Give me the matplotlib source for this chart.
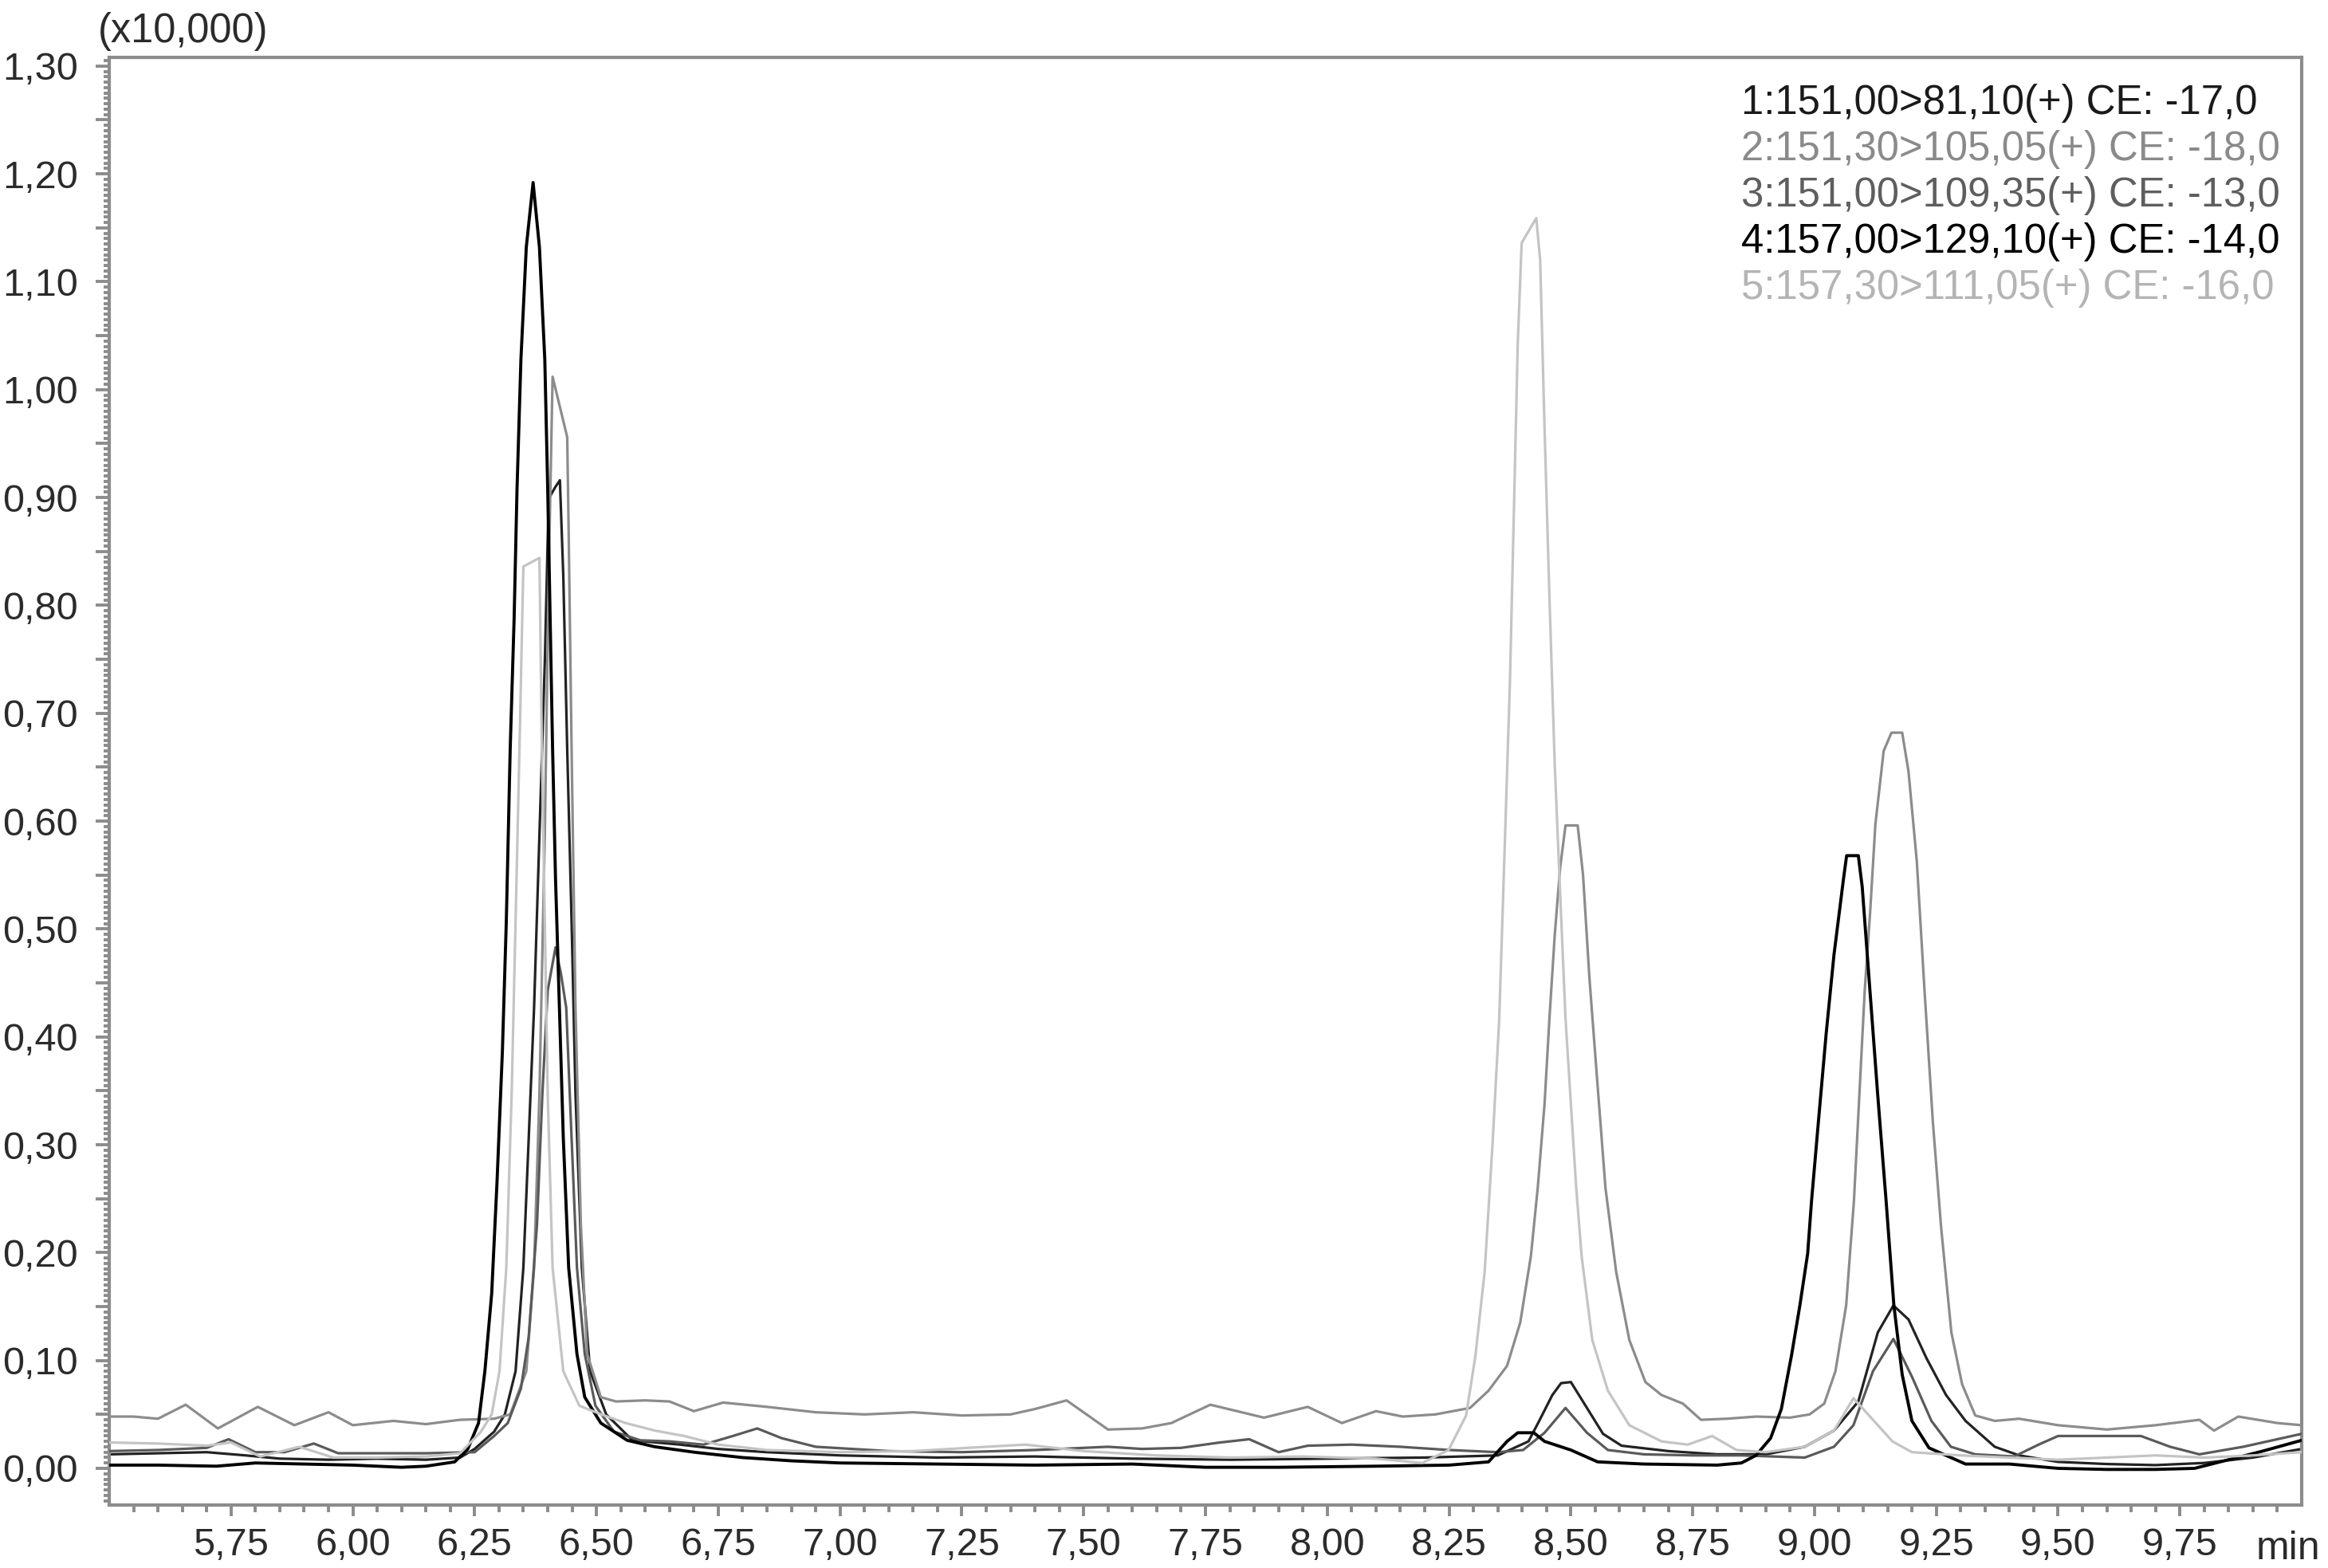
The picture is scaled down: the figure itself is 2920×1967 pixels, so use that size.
import numpy as np
import matplotlib
matplotlib.use("Agg")
import matplotlib.pyplot as plt
from matplotlib.ticker import FixedLocator, MultipleLocator, FuncFormatter

plt.rcParams['font.family'] = ['Liberation Sans', 'DejaVu Sans']

# --- data (intensity in units of x10,000) ---
labels = [
    "1:151,00>81,10(+) CE: -17,0",
    "2:151,30>105,05(+) CE: -18,0",
    "3:151,00>109,35(+) CE: -13,0",
    "4:157,00>129,10(+) CE: -14,0",
    "5:157,30>111,05(+) CE: -16,0",
]

t1 = [5.5, 5.6, 5.7, 5.78, 5.85, 5.95, 6.05, 6.15, 6.22, 6.25, 6.29, 6.312, 6.334, 6.35, 6.361,
      6.372, 6.383, 6.394, 6.402, 6.416, 6.425, 6.432, 6.44, 6.449, 6.457, 6.47, 6.487, 6.52,
      6.574, 6.672, 6.75, 6.85, 7.0, 7.2, 7.4, 7.6, 7.8, 8.0, 8.2, 8.35, 8.413, 8.435, 8.462,
      8.48, 8.50, 8.533, 8.566, 8.604, 8.7, 8.8, 8.9, 8.98, 9.04, 9.09, 9.10, 9.13, 9.162, 9.193,
      9.23, 9.27, 9.31, 9.37, 9.42, 9.5, 9.6, 9.7, 9.8, 9.9, 10.0]
v1 = [0.013, 0.014, 0.015, 0.012, 0.009, 0.008, 0.009, 0.008, 0.010, 0.018, 0.034, 0.050, 0.090,
      0.186, 0.306, 0.427, 0.587, 0.747, 0.899, 0.910, 0.916, 0.827, 0.667, 0.507, 0.347, 0.186,
      0.090, 0.050, 0.026, 0.022, 0.018, 0.015, 0.012, 0.010, 0.011, 0.009, 0.008, 0.009, 0.010,
      0.012, 0.025, 0.044, 0.068, 0.079, 0.080, 0.056, 0.032, 0.021, 0.016, 0.013, 0.013, 0.020,
      0.035, 0.062, 0.078, 0.126, 0.151, 0.138, 0.102, 0.068, 0.044, 0.020, 0.012, 0.006, 0.004,
      0.003, 0.005, 0.010, 0.018]

t2 = [5.5, 5.55, 5.6, 5.657, 5.723, 5.805, 5.88, 5.95, 6.0, 6.083, 6.15, 6.22, 6.29, 6.323,
      6.356, 6.372, 6.383, 6.394, 6.402, 6.41, 6.44, 6.443, 6.449, 6.457, 6.468, 6.481, 6.509,
      6.54, 6.6, 6.65, 6.70, 6.76, 6.85, 6.95, 7.05, 7.15, 7.25, 7.35, 7.40, 7.465, 7.55, 7.62,
      7.68, 7.76, 7.87, 7.96, 8.03, 8.10, 8.155, 8.222, 8.293, 8.331, 8.369, 8.396, 8.418, 8.432,
      8.446, 8.456, 8.467, 8.478, 8.489, 8.514, 8.525, 8.538, 8.555, 8.571, 8.593, 8.62, 8.653,
      8.686, 8.73, 8.767, 8.82, 8.88, 8.95, 8.99, 9.02, 9.043, 9.065, 9.081, 9.092, 9.103, 9.114,
      9.125, 9.142, 9.158, 9.18, 9.193, 9.21, 9.226, 9.243, 9.26, 9.281, 9.303, 9.33, 9.37, 9.42,
      9.5, 9.6, 9.7, 9.79, 9.82, 9.87, 9.95, 10.0]
v2 = [0.048, 0.048, 0.046, 0.059, 0.037, 0.057, 0.040, 0.052, 0.040, 0.044, 0.041, 0.045, 0.046,
      0.050, 0.090, 0.186, 0.347, 0.587, 0.827, 1.012, 0.956, 0.868, 0.667, 0.427, 0.226, 0.106,
      0.066, 0.062, 0.063, 0.062, 0.053, 0.061, 0.057, 0.052, 0.050, 0.052, 0.049, 0.050, 0.055,
      0.063, 0.036, 0.037, 0.042, 0.059, 0.047, 0.057, 0.042, 0.053, 0.048, 0.050, 0.056, 0.072,
      0.095, 0.135, 0.197, 0.260, 0.338, 0.417, 0.495, 0.557, 0.596, 0.596, 0.550, 0.455, 0.354,
      0.260, 0.182, 0.119, 0.080, 0.068, 0.060, 0.045, 0.046, 0.048, 0.047, 0.050, 0.060, 0.090,
      0.151, 0.248, 0.345, 0.442, 0.514, 0.597, 0.665, 0.682, 0.682, 0.646, 0.563, 0.442, 0.321,
      0.223, 0.126, 0.078, 0.049, 0.044, 0.046, 0.040, 0.036, 0.040, 0.045, 0.035, 0.048, 0.042,
      0.040]

t3 = [5.5, 5.6, 5.70, 5.745, 5.80, 5.86, 5.92, 5.97, 6.05, 6.15, 6.25, 6.29, 6.318, 6.345,
      6.361, 6.378, 6.389, 6.40, 6.416, 6.427, 6.438, 6.449, 6.46, 6.476, 6.498, 6.536, 6.59,
      6.65, 6.72, 6.78, 6.83, 6.88, 6.95, 7.1, 7.25, 7.4, 7.55, 7.62, 7.7, 7.78, 7.84, 7.9, 7.96,
      8.05, 8.15, 8.25, 8.35, 8.402, 8.446, 8.489, 8.533, 8.576, 8.65, 8.75, 8.85, 8.98, 9.04,
      9.08, 9.12, 9.162, 9.2, 9.24, 9.28, 9.33, 9.41, 9.46, 9.50, 9.6, 9.67, 9.73, 9.79, 9.88,
      10.0]
v3 = [0.016, 0.017, 0.019, 0.027, 0.015, 0.015, 0.023, 0.014, 0.014, 0.014, 0.015, 0.030, 0.042,
      0.074, 0.122, 0.226, 0.347, 0.443, 0.483, 0.459, 0.427, 0.306, 0.186, 0.106, 0.058, 0.034,
      0.026, 0.025, 0.022, 0.030, 0.037, 0.028, 0.020, 0.016, 0.015, 0.017, 0.020, 0.018, 0.019,
      0.024, 0.027, 0.015, 0.021, 0.022, 0.020, 0.017, 0.015, 0.017, 0.033, 0.056, 0.033, 0.017,
      0.013, 0.012, 0.012, 0.010, 0.020, 0.040, 0.090, 0.120, 0.085, 0.044, 0.020, 0.013, 0.011,
      0.022, 0.030, 0.030, 0.030, 0.020, 0.013, 0.020, 0.032]

t4 = [5.5, 5.6, 5.72, 5.80, 5.9, 6.0, 6.1, 6.15, 6.209, 6.236, 6.258, 6.271, 6.285, 6.296, 6.307,
      6.315, 6.323, 6.331, 6.337, 6.345, 6.356, 6.37, 6.383, 6.394, 6.40, 6.405, 6.41, 6.416,
      6.424, 6.432, 6.443, 6.46, 6.476, 6.509, 6.563, 6.62, 6.7, 6.8, 6.9, 7.0, 7.2, 7.4, 7.6,
      7.75, 7.9, 8.1, 8.25, 8.331, 8.369, 8.391, 8.424, 8.446, 8.5, 8.555, 8.65, 8.8, 8.85, 8.88,
      8.91, 8.932, 8.953, 8.97, 8.986, 8.994, 9.008, 9.024, 9.04, 9.06, 9.066, 9.09, 9.098, 9.114,
      9.13, 9.147, 9.163, 9.18, 9.2, 9.235, 9.31, 9.4, 9.5, 9.6, 9.7, 9.78, 9.85, 9.92, 10.0]
v4 = [0.003, 0.003, 0.002, 0.005, 0.004, 0.003, 0.001, 0.002, 0.006, 0.018, 0.042, 0.090, 0.162,
      0.266, 0.387, 0.507, 0.667, 0.787, 0.908, 1.028, 1.132, 1.192, 1.132, 1.028, 0.908, 0.787,
      0.667, 0.547, 0.427, 0.306, 0.186, 0.106, 0.066, 0.042, 0.026, 0.020, 0.015, 0.010, 0.007,
      0.005, 0.004, 0.003, 0.004, 0.001, 0.001, 0.002, 0.003, 0.006, 0.025, 0.033, 0.033, 0.025,
      0.017, 0.006, 0.004, 0.003, 0.005, 0.012, 0.028, 0.055, 0.105, 0.151, 0.199, 0.248, 0.321,
      0.403, 0.476, 0.548, 0.568, 0.568, 0.539, 0.442, 0.345, 0.248, 0.151, 0.087, 0.044, 0.019,
      0.004, 0.004, 0.000, -0.001, -0.001, 0.000, 0.008, 0.016, 0.026]

t5 = [5.5, 5.6, 5.7, 5.75, 5.81, 5.89, 5.96, 6.05, 6.15, 6.22, 6.263, 6.285, 6.301, 6.315, 6.326,
      6.334, 6.342, 6.35, 6.383, 6.388, 6.394, 6.40, 6.41, 6.432, 6.465, 6.51, 6.56, 6.62, 6.68,
      6.75, 6.85, 7.0, 7.15, 7.3, 7.38, 7.5, 7.65, 7.8, 7.95, 8.1, 8.195, 8.249, 8.285, 8.304,
      8.323, 8.339, 8.353, 8.364, 8.375, 8.383, 8.391, 8.399, 8.429, 8.437, 8.446, 8.456, 8.467,
      8.478, 8.489, 8.50, 8.511, 8.522, 8.544, 8.576, 8.62, 8.686, 8.74, 8.79, 8.84, 8.9, 8.98,
      9.04, 9.08, 9.12, 9.16, 9.2, 9.3, 9.4, 9.5, 9.6, 9.7, 9.8, 9.9, 10.0]
v5 = [0.024, 0.023, 0.021, 0.024, 0.011, 0.020, 0.010, 0.010, 0.011, 0.014, 0.034, 0.050, 0.090,
      0.186, 0.347, 0.507, 0.667, 0.836, 0.844, 0.667, 0.507, 0.347, 0.186, 0.090, 0.058, 0.050,
      0.042, 0.035, 0.030, 0.022, 0.017, 0.015, 0.016, 0.020, 0.022, 0.016, 0.012, 0.010, 0.011,
      0.009, 0.005, 0.017, 0.049, 0.104, 0.182, 0.299, 0.417, 0.573, 0.730, 0.886, 1.043, 1.136,
      1.159, 1.120, 0.964, 0.808, 0.651, 0.533, 0.417, 0.338, 0.260, 0.197, 0.119, 0.072, 0.040,
      0.025, 0.022, 0.030, 0.017, 0.015, 0.020, 0.035, 0.065, 0.045, 0.025, 0.015, 0.012, 0.010,
      0.008, 0.010, 0.012, 0.010, 0.012, 0.015]

x_labels = ["5,75", "6,00", "6,25", "6,50", "6,75", "7,00", "7,25", "7,50", "7,75",
            "8,00", "8,25", "8,50", "8,75", "9,00", "9,25", "9,50", "9,75"]

line_colors = ['#222222', '#8c8c8c', '#5a5a5a', '#000000', '#c4c4c4']
text_colors = ['#1a1a1a', '#8a8a8a', '#5e5e5e', '#000000', '#b4b4b4']
widths = [1.15, 1.15, 1.15, 1.4, 1.15]

traces = [(t1, v1), (t2, v2), (t3, v3), (t4, v4), (t5, v5)]

W, H = 2920, 1967
fig = plt.figure(figsize=(W / 200, H / 200), dpi=200, facecolor='white')
ax = fig.add_axes([137 / W, (H - 1888) / H, 2750 / W, 1816 / H])

# light traces first so the dark ones sit on top
for i in [4, 1, 2, 0, 3]:
    t, v = traces[i]
    ax.plot(t, v, color=line_colors[i], lw=widths[i], solid_joinstyle='round', zorder=2 + i)

ax.set_xlim(5.5, 10.0)
ax.set_ylim(-0.034, 1.308)

spine_c = '#8c8c8c'
for s in ax.spines.values():
    s.set_color(spine_c)
    s.set_linewidth(1.5)

# x ticks
x_major = np.arange(5.75, 9.76, 0.25)
ax.xaxis.set_major_locator(FixedLocator(x_major))
ax.set_xticklabels(x_labels)
ax.xaxis.set_minor_locator(FixedLocator(np.arange(5.55, 9.96, 0.05)))

# y ticks: long ticks every 0.05, labels every 0.10
ax.yaxis.set_major_locator(MultipleLocator(0.05))
ax.yaxis.set_minor_locator(MultipleLocator(0.005))


def yfmt(v, pos):
    k = int(round(v * 100))
    if k % 10 != 0 or v < -0.001:
        return ''
    return f"{v:.2f}".replace('.', ',')


ax.yaxis.set_major_formatter(FuncFormatter(yfmt))

ax.tick_params(axis='x', which='major', direction='out', length=5, width=1.4,
               color=spine_c, pad=5, labelsize=17.5, labelcolor='#2b2b2b')
ax.tick_params(axis='x', which='minor', direction='out', length=3.3, width=1.4, color=spine_c)
ax.tick_params(axis='y', which='major', direction='out', length=6, width=1.4,
               color=spine_c, pad=8, labelsize=17.5, labelcolor='#2b2b2b')
ax.tick_params(axis='y', which='minor', direction='out', length=2.5, width=1.4, color=spine_c)

# scale note and unit
fig.text(123 / W, 1 - 40 / H, "(x10,000)", ha='left', va='center', fontsize=18.2,
         color='#2b2b2b')
fig.text(2870 / W, 1 - 1956 / H, "min", ha='center', va='baseline', fontsize=18,
         color='#2b2b2b')

# channel legend
for i, lab in enumerate(labels):
    fig.text(2184 / W, 1 - (130 + 58 * i) / H, lab, ha='left', va='center',
             fontsize=18.3, color=text_colors[i])

fig.savefig("out.png", dpi=200, facecolor='white')
